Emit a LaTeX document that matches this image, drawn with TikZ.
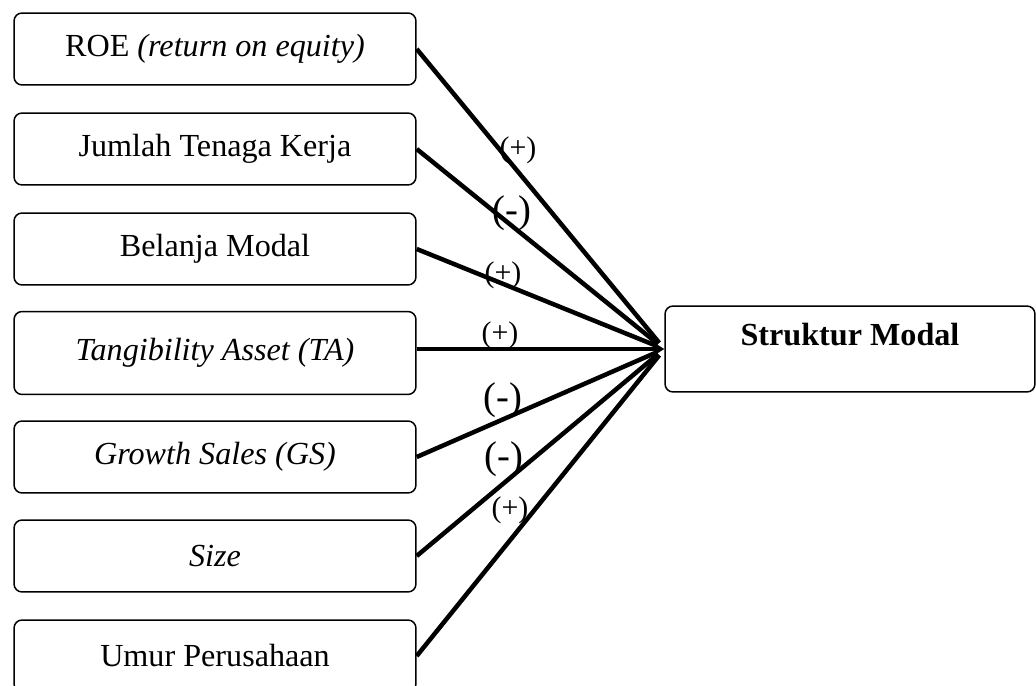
\documentclass[tikz,border=0pt]{standalone}
\usepackage{fontspec}
\setmainfont{Liberation Serif}
\usetikzlibrary{arrows.meta}
\begin{document}
\begin{tikzpicture}[x=0.02cm,y=-0.02cm,
    varbox/.style={draw,rounded corners=0.16cm,line width=0.03cm,minimum width=8.04cm,minimum height=1.44cm,font=\fontsize{18.3}{21}\selectfont},
    link/.style={line width=0.09cm,shorten >=0.16cm},
    sgn/.style={font=\fontsize{17}{20}\selectfont,inner sep=0pt},
    sgnbig/.style={font=\fontsize{22}{25}\selectfont,inner sep=0pt}]
    \useasboundingbox (0,0) rectangle (1036,686);
    \node[varbox] (roe) at (215,49) {ROE \textit{(return on equity)}};
    \node[varbox] (tk) at (215,149) {Jumlah Tenaga Kerja};
    \node[varbox] (bm) at (215,249) {Belanja Modal};
    \node[varbox,minimum height=1.66cm] (ta) at (215,353) {\textit{Tangibility Asset (TA)}};
    \node[varbox] (gs) at (215,457) {\textit{Growth Sales (GS)}};
    \node[varbox] (size) at (215,556) {\textit{Size}};
    \node[varbox] (umur) at (215,656) {Umur Perusahaan};
    \node[varbox,minimum width=7.4cm,minimum height=1.72cm,text height=0.3cm,text depth=0.45cm] (sm) at (850,349) {\textbf{Struktur Modal}};
    \draw[link] (roe.east) -- (sm.west);
    \draw[link] (tk.east) -- (sm.west);
    \draw[link] (bm.east) -- (sm.west);
    \draw[link] (gs.east) -- (sm.west);
    \draw[link] (size.east) -- (sm.west);
    \draw[link] (umur.east) -- (sm.west);
    \draw[line width=0.09cm,-{Triangle[length=0.2cm,width=0.24cm]}] (ta.east |- sm.west) -- (sm.west);
    \node[sgn] (s1) at (518,150) {(+)};
    \node[sgnbig] (s2) at (512,213) {(-)};
    \node[sgn] (s3) at (503,275) {(+)};
    \node[sgn] (s4) at (500,335) {(+)};
    \node[sgnbig] (s5) at (503,400) {(-)};
    \node[sgnbig] (s6) at (504,459) {(-)};
    \node[sgn] (s7) at (510,510) {(+)};
\end{tikzpicture}
\end{document}
